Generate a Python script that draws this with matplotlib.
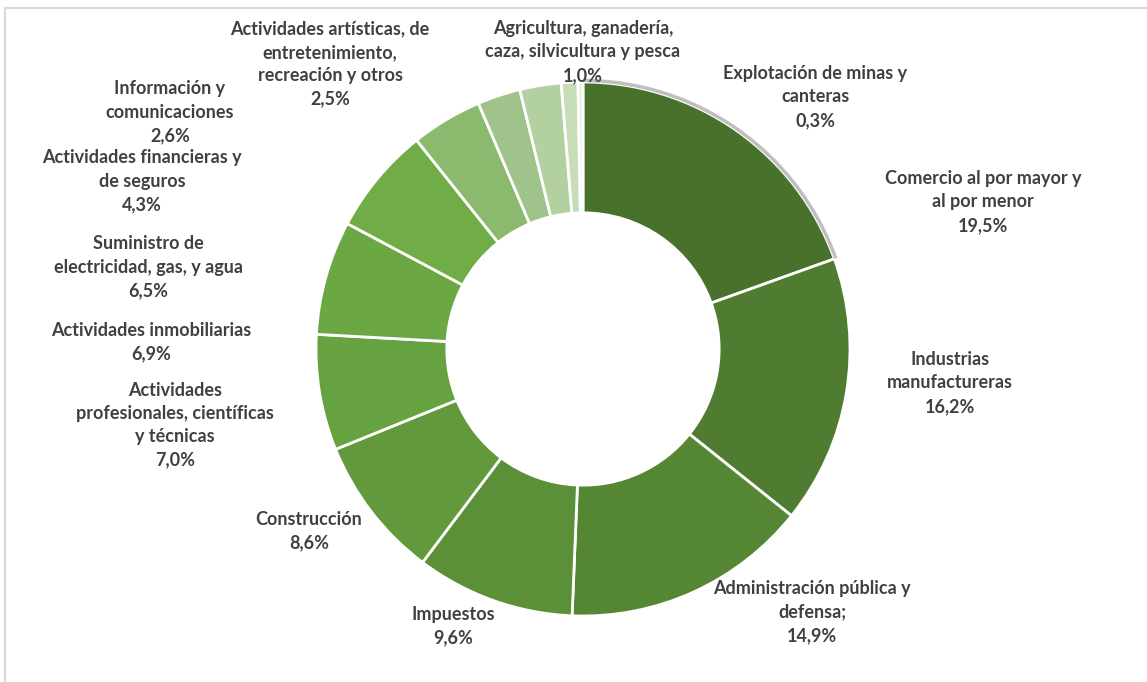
import matplotlib.pyplot as plt
from matplotlib.patches import Arc

# sectores (orden horario desde las 12)
sectores = ['Comercio al por mayor y\nal por menor',
            'Industrias\nmanufactureras',
            'Administración pública y\ndefensa;',
            'Impuestos',
            'Construcción',
            'Actividades\nprofesionales, científicas\ny técnicas',
            'Actividades inmobiliarias',
            'Suministro de\nelectricidad, gas, y agua',
            'Actividades financieras y\nde seguros',
            'Información y\ncomunicaciones',
            'Actividades artísticas, de\nentretenimiento,\nrecreación y otros',
            'Agricultura, ganadería,\ncaza, silvicultura y pesca',
            'Explotación de minas y\ncanteras']
valores = [19.5, 16.2, 14.9, 9.6, 8.6, 7.0, 6.9, 6.5, 4.3, 2.6, 2.5, 1.0, 0.3]
colores = ['#48712c', '#4f7c31', '#558634', '#5b8f38', '#62993c', '#67a240',
           '#6ba843', '#70ad47', '#8bba6f', '#9fc38a', '#b3d1a0', '#c6ddb8',
           '#e4efdc']

# posicion de las etiquetas en pixeles (centro del bloque)
pos_etiquetas = [(983, 202), (950, 383), (812, 612), (453, 626), (309, 531),
                 (175, 425), (151, 342), (148, 267), (142, 181), (170, 112),
                 (330, 64), (583, 52), (815, 97)]

W, H = 1147, 682
fig = plt.figure(figsize=(W / 100, H / 100), dpi=100)
ax = fig.add_axes([0, 0, 1, 1])

cx, cy, r = 583, H - 349, 267
wedges, _ = ax.pie(valores, colors=colores, startangle=90, counterclock=False,
                   center=(cx, cy), radius=r, frame=True,
                   wedgeprops=dict(width=r * 0.49, edgecolor='white', linewidth=2))
ax.set_xlim(0, W)
ax.set_ylim(0, H)
ax.set_aspect('equal')
ax.axis('off')

# borde gris sobre el primer sector
th1, th2 = wedges[0].theta1, wedges[0].theta2
ax.add_patch(Arc((cx, cy), 2 * r + 3, 2 * r + 3, theta1=th1, theta2=th2,
                 color='#bfbfbf', lw=2.5))

for nombre, v, (x, y) in zip(sectores, valores, pos_etiquetas):
    txt = nombre + '\n' + f'{v:.1f}'.replace('.', ',') + '%'
    ax.text(x, H - y, txt, ha='center', va='center', fontsize=13,
            fontweight='bold', family='Lato', color='#404040', linespacing=1.45)

# marco del grafico
ax.plot([5, 5, W], [0, H - 8, H - 8], color='#d9d9d9', lw=1.5)

plt.savefig('out.png', dpi=100)
